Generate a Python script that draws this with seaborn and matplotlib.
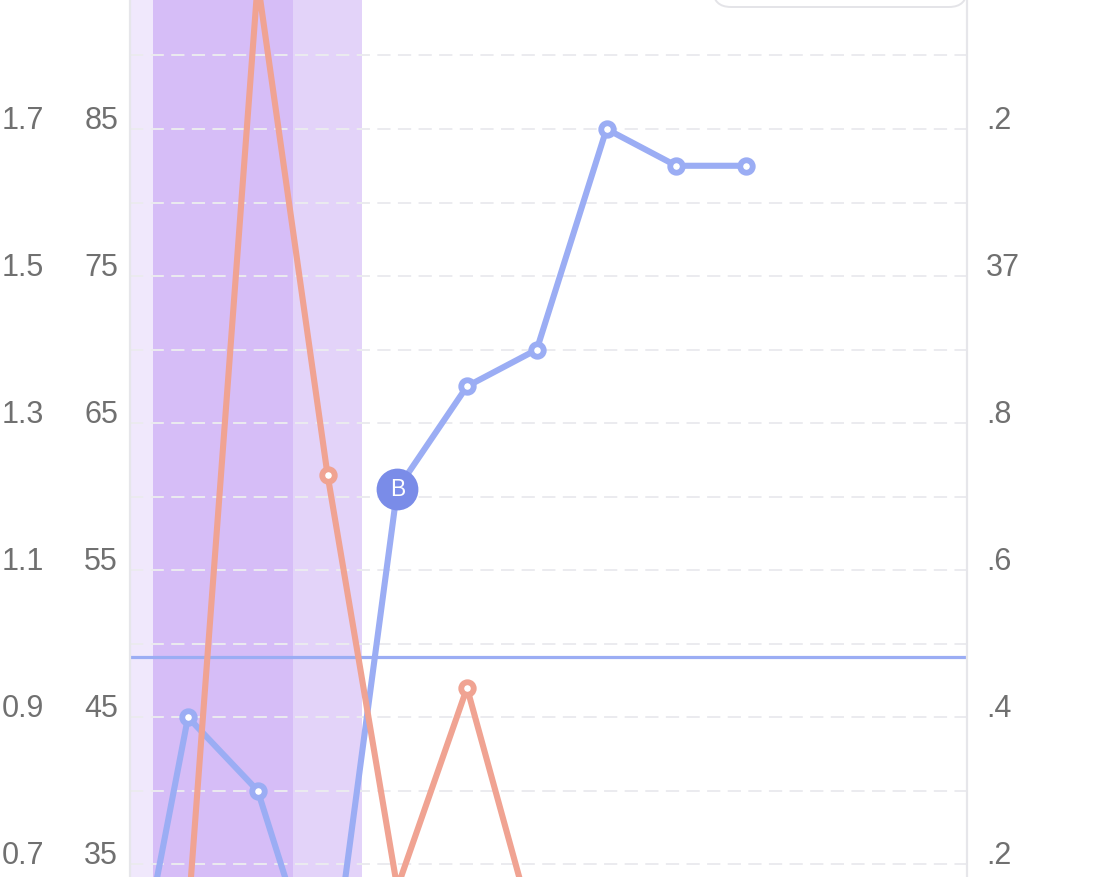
import matplotlib
matplotlib.use("Agg")
import matplotlib.pyplot as plt
import pandas as pd
import seaborn as sns
from matplotlib.patches import FancyBboxPatch
from matplotlib.transforms import IdentityTransform

# ---- data -------------------------------------------------------------
blue_steps = [0, 1, 2, 3, 4, 5, 6, 7, 8, 9]
blue_values = [20.4, 45, 40, 25, 60.5, 67.5, 70, 85, 82.5, 82.5]

orange_steps = [1, 2, 3, 4, 5, 6]
orange_values = [31.4, 95, 61.5, 33.4, 47, 29.8]

reference_level = 49.1
highlight_step = 4
highlight_label = "B"

left_ticks = [35, 45, 55, 65, 75, 85]
left_labels = ["35", "45", "55", "65", "75", "85"]
outer_labels = ["0.7", "0.9", "1.1", "1.3", "1.5", "1.7"]
right_labels = [".2", ".4", ".6", ".8", "37", ".2"]
grid_levels = [35, 40, 45, 50, 55, 60, 65, 70, 75, 80, 85, 90]

band_starts = [-0.5, 0.5, 2.5]
band_ends = [0.5, 2.5, 3.5]
band_colors = ["#f0e8fc", "#d6bdf7", "#e3d3f9"]

# ---- style ------------------------------------------------------------
sns.set_theme(style="white")
plt.rcParams["font.family"] = ["Liberation Sans", "DejaVu Sans"]

BLUE = "#9badf4"
ORANGE = "#f0a392"
LABEL_BLUE = "#7a8ce8"
TEXT = "#707070"
GRID = "#ebebef"
SPINE = "#e6e6ea"

W, H = 1103, 877
fig = plt.figure(figsize=(W / 100, H / 100), dpi=100)
ax = fig.add_axes([130 / W, 0, 837 / W, 1])

ax.set_xlim(0.1685, 12.168)
ax.set_ylim(34.136, 93.772)

# shaded bands
for x0, x1, c in zip(band_starts, band_ends, band_colors):
    ax.axvspan(x0, x1, color=c, lw=0, zorder=0.2)

# dashed horizontal grid
for lvl in grid_levels:
    ax.axhline(lvl, color=GRID, lw=1.4, dashes=(6.8, 3.8), zorder=0.5)

# reference line
ax.axhline(reference_level, color=BLUE, lw=2.3, zorder=1.5)

blue_df = pd.DataFrame({"step": blue_steps, "value": blue_values})
orange_df = pd.DataFrame({"step": orange_steps, "value": orange_values})

marker_kw = dict(marker="o", markersize=9.0, markerfacecolor="white",
                 markeredgewidth=4.2, linewidth=4.4)

sns.lineplot(data=blue_df, x="step", y="value", ax=ax, color=BLUE,
             markeredgecolor=BLUE, zorder=3, **marker_kw)
sns.lineplot(data=orange_df, x="step", y="value", ax=ax, color=ORANGE,
             markeredgecolor=ORANGE, zorder=4, **marker_kw)

# highlighted point badge
hv = blue_values[blue_steps.index(highlight_step)]
ax.scatter([highlight_step], [hv], s=905, color=LABEL_BLUE, zorder=6,
           linewidths=0)
ax.text(highlight_step, hv, highlight_label, color="white", fontsize=16.5,
        ha="center", va="center", zorder=7)

# axes cosmetics
ax.set_xlabel("")
ax.set_ylabel("")
ax.set_xticks([])
ax.set_yticks(left_ticks, labels=left_labels)
ax.tick_params(axis="y", length=0, pad=8.6, labelsize=22, labelcolor=TEXT)
for side in ("top", "bottom"):
    ax.spines[side].set_visible(False)
for side in ("left", "right"):
    ax.spines[side].set_color(SPINE)
    ax.spines[side].set_linewidth(1.6)

outer = ax.secondary_yaxis(-0.0884)
outer.set_yticks(left_ticks, labels=outer_labels)
outer.tick_params(length=0, pad=8.6, labelsize=22, labelcolor=TEXT)
outer.spines["left"].set_visible(False)

right = ax.secondary_yaxis("right")
right.set_yticks(left_ticks, labels=right_labels)
right.tick_params(length=0, pad=13.5, labelsize=22, labelcolor=TEXT)
right.spines["right"].set_visible(False)

# tick labels sit on their grid line
for axis in (ax.yaxis, outer.yaxis, right.yaxis):
    for tick in axis.get_major_ticks():
        tick.label1.set_verticalalignment("baseline")
        tick.label2.set_verticalalignment("baseline")

# legend frame peeking in at the top right
frame = FancyBboxPatch((713, H - 7), 254, 120,
                       boxstyle="round,pad=0,rounding_size=18",
                       transform=IdentityTransform(), facecolor="white",
                       edgecolor="#e4e4e8", lw=1.4, zorder=10)
fig.add_artist(frame)

fig.savefig("out.png", dpi=100)
